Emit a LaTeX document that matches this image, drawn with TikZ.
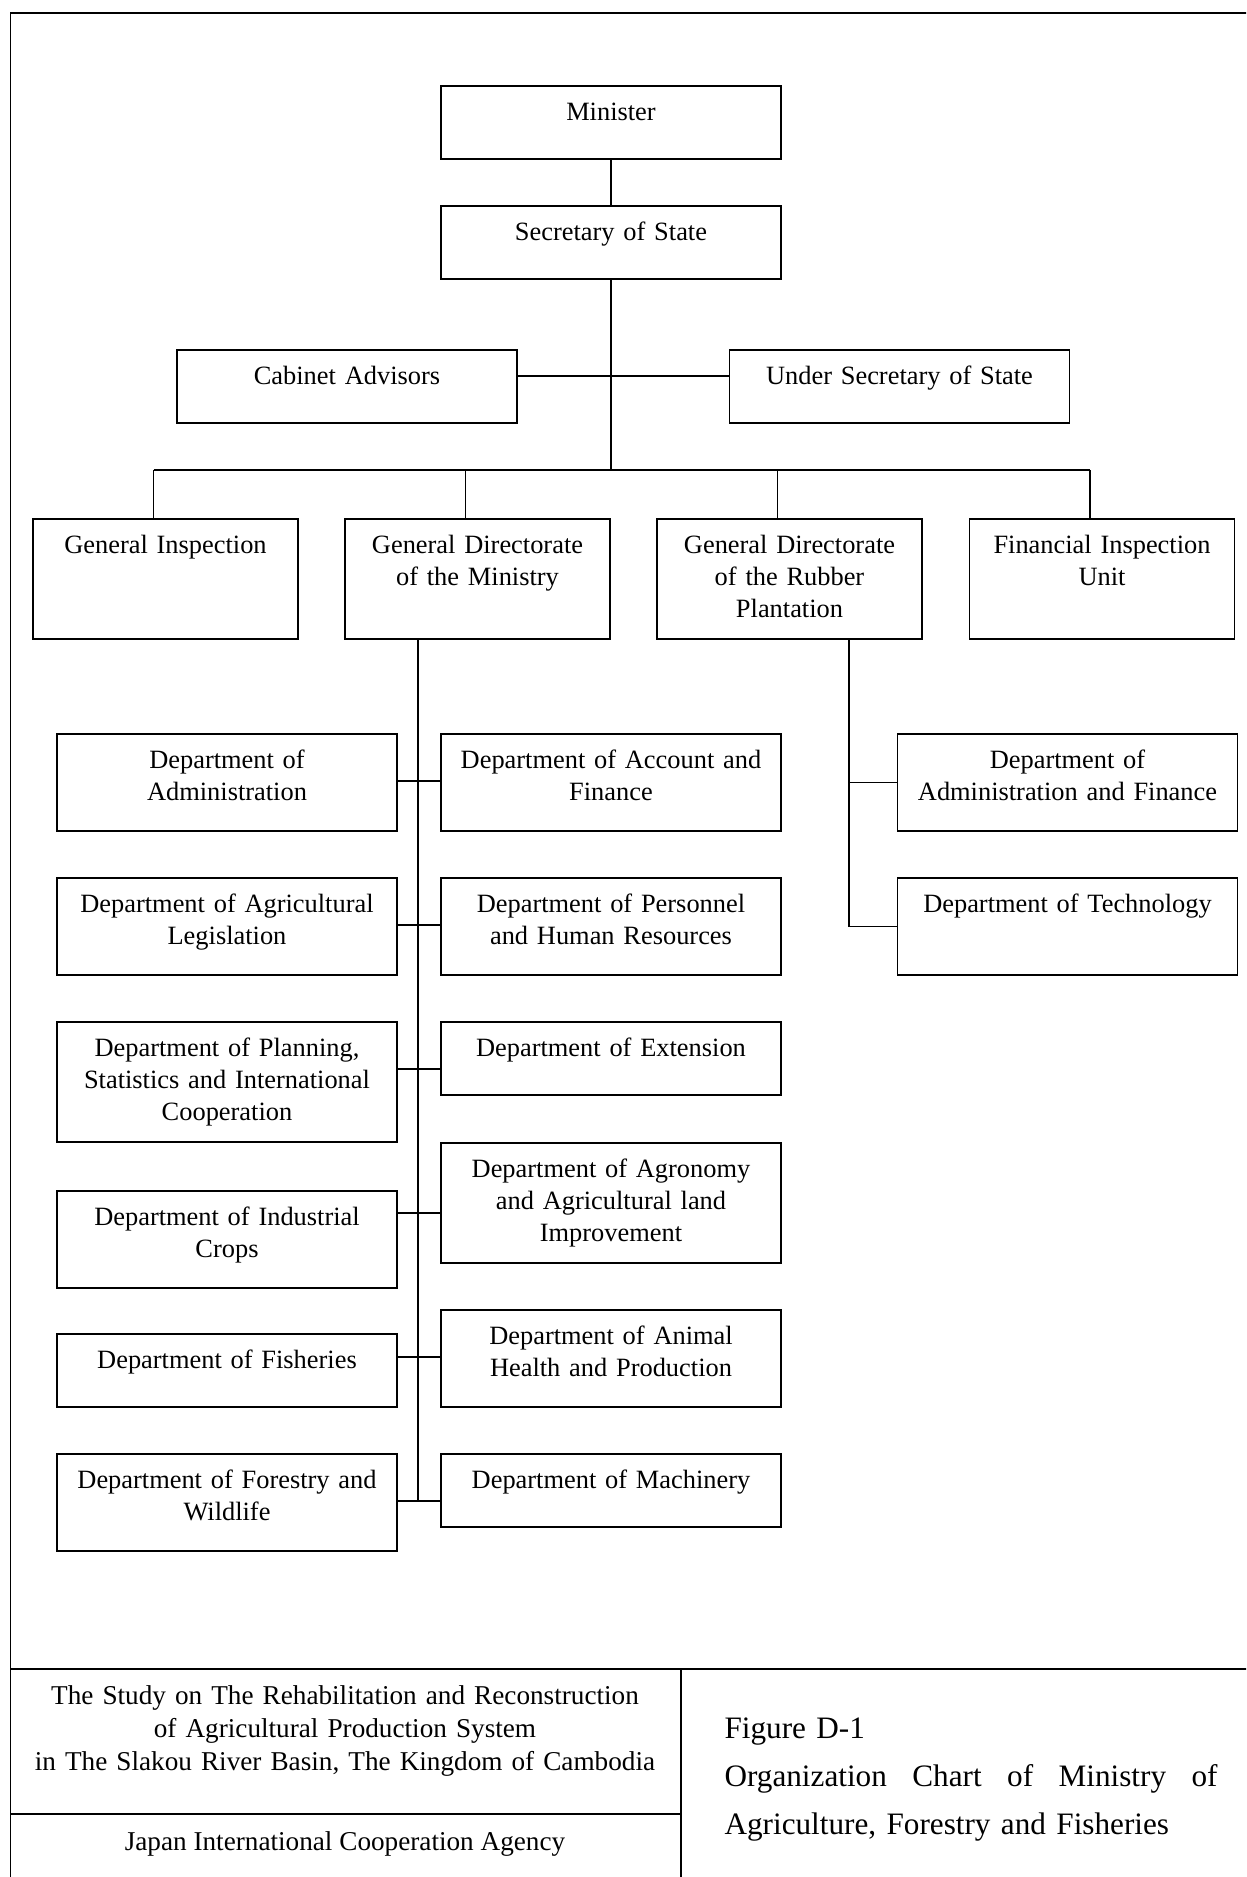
\documentclass[tikz,border=0pt]{standalone}
\usepackage{fontspec}
\setmainfont{Liberation Serif}
\usetikzlibrary{positioning, calc}

\tikzset{
  unit/.style={draw, rectangle, anchor=north, align=center, inner sep=0pt,
    text width=170pt, text height=17.5pt, font=\fontsize{13.2}{16}\selectfont},
  narrow/.style={text width=132.5pt},
  lowbox/.style={text depth=19pt},
  midbox/.style={text depth=31pt},
  highbox/.style={text depth=42.5pt},
}

\begin{document}
\begin{tikzpicture}[x=0.5pt, y=-0.5pt, line width=0.9pt]
        \clip (0,0) rectangle (1246,1877);

        % Page frame and title block
        \draw (10.5,13) rectangle (1300,1950);
        \draw (10.5,1669) -- (1300,1669);
        \draw (681,1669) -- (681,1950);
        \draw (10.5,1814) -- (681,1814);

        % Top of the ministry
        \node[unit, lowbox] (minister) at (611,85) {Minister};
        \node[unit, lowbox] (secretary) at (611,205) {Secretary of State};
        \node[unit, lowbox] (cabinet) at (347,349) {Cabinet Advisors};
        \node[unit, lowbox] (under) at (899.5,349) {Under Secretary of State};

        % General directorates
        \node[unit, narrow, highbox] (geninsp) at (165.5,518) {General Inspection};
        \node[unit, narrow, highbox] (gdmin) at (477.5,518) {General Directorate\\of the Ministry};
        \node[unit, narrow, highbox] (gdrub) at (789.5,518) {General Directorate\\of the Rubber\\Plantation};
        \node[unit, narrow, highbox] (fininsp) at (1102,518) {Financial Inspection\\Unit};

        % Departments under the ministry (left column)
        \node[unit, midbox] (admin) at (227,733) {Department of\\Administration};
        \node[unit, midbox] (legis) at (227,877) {Department of Agricultural\\Legislation};
        \node[unit, highbox] (planning) at (227,1021) {Department of Planning,\\Statistics and International\\Cooperation};
        \node[unit, midbox] (industrial) at (227,1190) {Department of Industrial\\Crops};
        \node[unit, lowbox] (fisheries) at (227,1333) {Department of Fisheries};
        \node[unit, midbox] (forestry) at (227,1453) {Department of Forestry and\\Wildlife};

        % Departments under the ministry (right column)
        \node[unit, midbox] (account) at (611,733) {Department of Account and\\Finance};
        \node[unit, midbox] (personnel) at (611,877) {Department of Personnel\\and Human Resources};
        \node[unit, lowbox] (extension) at (611,1021) {Department of Extension};
        \node[unit, highbox] (agronomy) at (611,1142) {Department of Agronomy\\and Agricultural land\\Improvement};
        \node[unit, midbox] (animal) at (611,1309) {Department of Animal\\Health and Production};
        \node[unit, lowbox] (machinery) at (611,1453) {Department of Machinery};

        % Departments under the rubber plantation
        \node[unit, midbox] (adminfin) at (1067.5,733) {Department of\\Administration and Finance};
        \node[unit, midbox] (technology) at (1067.5,877) {Department of Technology};

        % Connectors
        \coordinate (adv) at (611,376);
        \coordinate (bus) at (611,470);
        \coordinate (mtrunk) at (418,0);
        \coordinate (rtrunk) at (849,0);

        \draw (minister) -- (secretary);
        \draw (secretary.south) -- (bus);
        \draw (cabinet.east |- adv) -- (under.west |- adv);
        \draw ($(geninsp.north)+(-12,-48)$) -- ($(fininsp.north)+(-12,-48)$);
        \foreach \n in {geninsp, gdmin, gdrub, fininsp} {
            \draw ($(\n.north)+(-12,0)$) -- ($(\n.north)+(-12,-48)$);
        }

        \draw (gdmin.south -| mtrunk) -- (forestry.east -| mtrunk);
        \foreach \l/\r [count=\i] in {admin/account, legis/personnel, planning/extension,
                industrial/agronomy, fisheries/animal, forestry/machinery} {
            \coordinate (row\i) at (418,{637+144*\i});
            \draw (\l.east |- row\i) -- (\r.west |- row\i);
        }

        \draw (gdrub.south -| rtrunk) |- (technology.west);
        \draw (adminfin.west) -- (adminfin.west -| rtrunk);

        % Title block texts
        \node[anchor=base, text width=320pt, align=center, font=\fontsize{13.6}{16.7}\selectfont] (study) at (345,1704)
            {The Study on The Rehabilitation and Reconstruction\\of Agricultural Production System\\in The Slakou River Basin, The Kingdom of Cambodia};
        \node[anchor=base, font=\fontsize{13.6}{16.7}\selectfont] (jica) at (345,1850) {Japan International Cooperation Agency};
        \node[anchor=base west, text width=250pt, align=left, font=\fontsize{15.6}{24}\selectfont] (caption) at (717,1738.5)
            {Figure D-1\\\makebox[246.5pt][s]{Organization\hfill Chart\hfill of\hfill Ministry\hfill of}\\Agriculture, Forestry and Fisheries};
\end{tikzpicture}
\end{document}
